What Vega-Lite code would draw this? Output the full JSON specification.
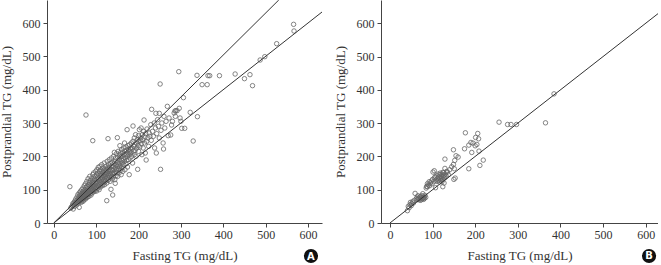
{
  "$schema": "https://vega.github.io/schema/vega-lite/v6.json",
  "padding": {"left": 0, "top": 0, "right": 0, "bottom": 0},
  "background": "white",
  "spacing": 12,
  "config": {
    "view": {"stroke": null},
    "axis": {
      "grid": false,
      "domainColor": "#444",
      "tickColor": "#444",
      "tickSize": 4,
      "labelFont": "Liberation Serif",
      "labelFontSize": 12,
      "labelColor": "#333",
      "titleFont": "Liberation Serif",
      "titleFontSize": 13,
      "titleFontWeight": "normal",
      "titleColor": "#333"
    },
    "axisX": {"labelPadding": 2, "titlePadding": 9},
    "axisY": {"labelPadding": 3, "titlePadding": 9}
  },
  "datasets": {
    "a": [
      {"x":38,"y":109},{"x":40,"y":45},{"x":42,"y":48},{"x":44,"y":52},{"x":45,"y":58},{"x":46,"y":42},{"x":47,"y":55},{"x":48,"y":62},{"x":49,"y":50},{"x":50,"y":66},
      {"x":51,"y":58},{"x":52,"y":72},{"x":53,"y":61},{"x":54,"y":54},{"x":55,"y":78},{"x":55,"y":68},{"x":56,"y":63},{"x":57,"y":85},{"x":58,"y":72},{"x":58,"y":60},
      {"x":59,"y":66},{"x":60,"y":47},{"x":60,"y":90},{"x":60,"y":78},{"x":61,"y":70},{"x":62,"y":64},{"x":62,"y":83},{"x":63,"y":95},{"x":63,"y":74},{"x":64,"y":68},
      {"x":64,"y":88},{"x":65,"y":80},{"x":65,"y":62},{"x":66,"y":100},{"x":66,"y":73},{"x":67,"y":86},{"x":67,"y":69},{"x":68,"y":93},{"x":68,"y":78},{"x":69,"y":105},
      {"x":69,"y":65},{"x":70,"y":83},{"x":70,"y":74},{"x":70,"y":96},{"x":71,"y":88},{"x":71,"y":69},{"x":72,"y":112},{"x":72,"y":80},{"x":73,"y":92},{"x":73,"y":75},
      {"x":74,"y":100},{"x":74,"y":85},{"x":75,"y":72},{"x":75,"y":118},{"x":75,"y":93},{"x":76,"y":81},{"x":76,"y":107},{"x":76,"y":324},{"x":77,"y":88},{"x":77,"y":76},
      {"x":78,"y":97},{"x":78,"y":125},{"x":79,"y":84},{"x":79,"y":110},{"x":80,"y":91},{"x":80,"y":78},{"x":80,"y":102},{"x":81,"y":133},{"x":81,"y":95},{"x":82,"y":86},
      {"x":82,"y":115},{"x":83,"y":100},{"x":83,"y":80},{"x":84,"y":122},{"x":84,"y":92},{"x":85,"y":106},{"x":85,"y":140},{"x":86,"y":88},{"x":86,"y":112},{"x":87,"y":98},
      {"x":87,"y":128},{"x":88,"y":84},{"x":88,"y":117},{"x":89,"y":104},{"x":89,"y":95},{"x":90,"y":135},{"x":90,"y":110},{"x":90,"y":90},{"x":91,"y":121},{"x":91,"y":100},
      {"x":92,"y":247},{"x":92,"y":145},{"x":92,"y":113},{"x":93,"y":93},{"x":93,"y":126},{"x":94,"y":105},{"x":94,"y":150},{"x":95,"y":117},{"x":95,"y":98},{"x":96,"y":131},
      {"x":96,"y":109},{"x":97,"y":140},{"x":97,"y":95},{"x":98,"y":122},{"x":98,"y":112},{"x":99,"y":155},{"x":99,"y":102},{"x":100,"y":130},{"x":100,"y":118},{"x":100,"y":107},
      {"x":101,"y":145},{"x":101,"y":96},{"x":102,"y":125},{"x":102,"y":160},{"x":103,"y":113},{"x":103,"y":137},{"x":104,"y":104},{"x":104,"y":150},{"x":105,"y":120},{"x":105,"y":167},
      {"x":106,"y":132},{"x":106,"y":110},{"x":107,"y":143},{"x":107,"y":100},{"x":108,"y":126},{"x":108,"y":155},{"x":109,"y":115},{"x":109,"y":170},{"x":110,"y":137},{"x":110,"y":122},
      {"x":110,"y":108},{"x":111,"y":148},{"x":111,"y":160},{"x":112,"y":130},{"x":112,"y":117},{"x":113,"y":142},{"x":113,"y":175},{"x":114,"y":124},{"x":114,"y":155},{"x":115,"y":112},
      {"x":115,"y":136},{"x":116,"y":150},{"x":116,"y":165},{"x":117,"y":128},{"x":117,"y":143},{"x":118,"y":120},{"x":118,"y":158},{"x":119,"y":138},{"x":119,"y":180},{"x":120,"y":147},
      {"x":120,"y":130},{"x":120,"y":115},{"x":121,"y":162},{"x":122,"y":140},{"x":122,"y":125},{"x":123,"y":153},{"x":123,"y":170},{"x":124,"y":133},{"x":124,"y":145},{"x":125,"y":67},
      {"x":125,"y":160},{"x":125,"y":120},{"x":126,"y":150},{"x":126,"y":185},{"x":127,"y":137},{"x":127,"y":165},{"x":128,"y":253},{"x":128,"y":128},{"x":128,"y":155},{"x":129,"y":175},
      {"x":129,"y":143},{"x":130,"y":132},{"x":130,"y":160},{"x":131,"y":148},{"x":131,"y":190},{"x":132,"y":138},{"x":132,"y":168},{"x":133,"y":155},{"x":133,"y":125},{"x":134,"y":178},
      {"x":134,"y":145},{"x":135,"y":101},{"x":135,"y":160},{"x":136,"y":140},{"x":136,"y":195},{"x":137,"y":170},{"x":137,"y":150},{"x":138,"y":132},{"x":138,"y":182},{"x":139,"y":84},
      {"x":139,"y":158},{"x":140,"y":148},{"x":140,"y":170},{"x":141,"y":200},{"x":141,"y":138},{"x":142,"y":162},{"x":142,"y":178},{"x":143,"y":150},{"x":143,"y":212},{"x":144,"y":130},
      {"x":144,"y":185},{"x":145,"y":119},{"x":145,"y":165},{"x":146,"y":155},{"x":146,"y":195},{"x":147,"y":142},{"x":147,"y":175},{"x":148,"y":208},{"x":148,"y":160},{"x":149,"y":150},
      {"x":150,"y":256},{"x":150,"y":182},{"x":150,"y":170},{"x":151,"y":140},{"x":151,"y":198},{"x":152,"y":162},{"x":152,"y":215},{"x":153,"y":175},{"x":154,"y":150},{"x":154,"y":190},
      {"x":155,"y":205},{"x":155,"y":168},{"x":156,"y":232},{"x":156,"y":180},{"x":157,"y":158},{"x":157,"y":197},{"x":158,"y":212},{"x":158,"y":172},{"x":159,"y":145},{"x":160,"y":188},
      {"x":160,"y":220},{"x":161,"y":165},{"x":161,"y":200},{"x":162,"y":180},{"x":163,"y":210},{"x":163,"y":155},{"x":164,"y":192},{"x":165,"y":225},{"x":165,"y":175},{"x":166,"y":205},
      {"x":167,"y":185},{"x":167,"y":240},{"x":168,"y":160},{"x":168,"y":215},{"x":169,"y":195},{"x":170,"y":178},{"x":170,"y":228},{"x":171,"y":205},{"x":172,"y":188},{"x":172,"y":218},
      {"x":173,"y":280},{"x":174,"y":200},{"x":174,"y":168},{"x":175,"y":232},{"x":175,"y":210},{"x":176,"y":190},{"x":177,"y":220},{"x":178,"y":205},{"x":178,"y":145},{"x":179,"y":235},
      {"x":180,"y":215},{"x":180,"y":195},{"x":181,"y":225},{"x":182,"y":210},{"x":183,"y":240},{"x":184,"y":200},{"x":185,"y":222},{"x":186,"y":180},{"x":187,"y":291},{"x":187,"y":245},
      {"x":188,"y":215},{"x":189,"y":230},{"x":190,"y":205},{"x":190,"y":255},{"x":191,"y":235},{"x":192,"y":218},{"x":193,"y":265},{"x":194,"y":200},{"x":195,"y":240},{"x":196,"y":225},
      {"x":197,"y":250},{"x":198,"y":161},{"x":199,"y":232},{"x":200,"y":215},{"x":200,"y":262},{"x":201,"y":245},{"x":202,"y":280},{"x":203,"y":228},{"x":204,"y":255},{"x":205,"y":247},
      {"x":206,"y":285},{"x":207,"y":238},{"x":208,"y":205},{"x":209,"y":265},{"x":210,"y":250},{"x":211,"y":225},{"x":212,"y":275},{"x":213,"y":309},{"x":214,"y":240},{"x":215,"y":258},
      {"x":216,"y":210},{"x":217,"y":268},{"x":218,"y":189},{"x":219,"y":245},{"x":220,"y":282},{"x":222,"y":255},{"x":224,"y":230},{"x":225,"y":270},{"x":227,"y":260},{"x":229,"y":295},
      {"x":230,"y":248},{"x":231,"y":341},{"x":233,"y":275},{"x":235,"y":260},{"x":237,"y":300},{"x":238,"y":225},{"x":240,"y":285},{"x":241,"y":329},{"x":242,"y":210},{"x":243,"y":268},
      {"x":245,"y":310},{"x":247,"y":290},{"x":249,"y":329},{"x":249,"y":255},{"x":251,"y":417},{"x":252,"y":161},{"x":253,"y":278},{"x":255,"y":300},{"x":258,"y":240},{"x":259,"y":222},
      {"x":260,"y":320},{"x":262,"y":285},{"x":265,"y":305},{"x":268,"y":350},{"x":270,"y":262},{"x":272,"y":315},{"x":276,"y":264},{"x":278,"y":294},{"x":280,"y":305},{"x":284,"y":330},
      {"x":286,"y":336},{"x":287,"y":320},{"x":288,"y":337},{"x":291,"y":337},{"x":295,"y":454},{"x":296,"y":344},{"x":298,"y":315},{"x":300,"y":305},{"x":302,"y":284},{"x":306,"y":376},
      {"x":309,"y":284},{"x":322,"y":332},{"x":329,"y":246},{"x":338,"y":443},{"x":339,"y":319},{"x":350,"y":415},{"x":362,"y":415},{"x":364,"y":442},{"x":368,"y":442},{"x":391,"y":442},
      {"x":428,"y":447},{"x":450,"y":433},{"x":463,"y":445},{"x":469,"y":412},{"x":487,"y":489},{"x":498,"y":499},{"x":526,"y":538},{"x":566,"y":596},{"x":567,"y":576}
    ],
    "b": [
      {"x":41,"y":37},{"x":43,"y":50},{"x":45,"y":46},{"x":47,"y":55},{"x":48,"y":62},{"x":50,"y":52},{"x":51,"y":58},{"x":53,"y":64},{"x":55,"y":60},{"x":57,"y":68},
      {"x":59,"y":89},{"x":62,"y":73},{"x":64,"y":78},{"x":65,"y":70},{"x":66,"y":82},{"x":67,"y":74},{"x":69,"y":72},{"x":70,"y":78},{"x":71,"y":68},{"x":72,"y":80},
      {"x":73,"y":75},{"x":74,"y":70},{"x":75,"y":82},{"x":76,"y":73},{"x":77,"y":88},{"x":78,"y":76},{"x":79,"y":71},{"x":80,"y":78},{"x":81,"y":74},{"x":82,"y":83},
      {"x":84,"y":77},{"x":85,"y":105},{"x":86,"y":110},{"x":88,"y":109},{"x":88,"y":118},{"x":90,"y":114},{"x":92,"y":124},{"x":93,"y":112},{"x":95,"y":120},{"x":97,"y":126},
      {"x":99,"y":118},{"x":100,"y":131},{"x":101,"y":153},{"x":103,"y":124},{"x":104,"y":157},{"x":105,"y":136},{"x":106,"y":139},{"x":107,"y":106},{"x":108,"y":129},{"x":110,"y":142},
      {"x":111,"y":125},{"x":112,"y":134},{"x":113,"y":147},{"x":114,"y":128},{"x":115,"y":138},{"x":116,"y":123},{"x":117,"y":145},{"x":118,"y":132},{"x":118,"y":150},{"x":119,"y":127},
      {"x":120,"y":140},{"x":121,"y":135},{"x":122,"y":146},{"x":122,"y":124},{"x":123,"y":130},{"x":124,"y":109},{"x":124,"y":152},{"x":125,"y":138},{"x":126,"y":143},{"x":126,"y":151},
      {"x":127,"y":120},{"x":128,"y":135},{"x":129,"y":164},{"x":129,"y":192},{"x":130,"y":147},{"x":132,"y":140},{"x":133,"y":155},{"x":135,"y":153},{"x":137,"y":145},{"x":140,"y":160},
      {"x":145,"y":169},{"x":149,"y":176},{"x":149,"y":220},{"x":150,"y":131},{"x":151,"y":163},{"x":152,"y":188},{"x":153,"y":135},{"x":155,"y":202},{"x":160,"y":198},{"x":175,"y":223},
      {"x":177,"y":271},{"x":185,"y":163},{"x":185,"y":234},{"x":190,"y":242},{"x":192,"y":212},{"x":195,"y":240},{"x":200,"y":232},{"x":201,"y":257},{"x":204,"y":236},{"x":206,"y":269},
      {"x":208,"y":253},{"x":209,"y":216},{"x":211,"y":173},{"x":219,"y":189},{"x":256,"y":303},{"x":276,"y":296},{"x":284,"y":296},{"x":297,"y":296},{"x":365,"y":301},{"x":385,"y":388}
    ],
    "la": [
      {"g":"steep","x":0,"y":0},{"g":"steep","x":531,"y":669},
      {"g":"identity","x":0,"y":0},{"g":"identity","x":633,"y":633}
    ],
    "lb": [
      {"g":"identity","x":0,"y":0},{"g":"identity","x":629,"y":629}
    ],
    "badgeA": [{"x":607,"y":-99,"label":"A"}],
    "badgeB": [{"x":608,"y":-99,"label":"B"}]
  },
  "hconcat": [
    {
      "width": 275,
      "height": 223,
      "encoding": {
        "x": {"field": "x", "type": "quantitative",
              "scale": {"domain": [-16, 633], "nice": false, "zero": false},
              "axis": {"values": [0,100,200,300,400,500,600], "title": "Fasting TG (mg/dL)"}},
        "y": {"field": "y", "type": "quantitative",
              "scale": {"domain": [0, 669], "nice": false, "zero": false},
              "axis": {"values": [0,100,200,300,400,500,600], "title": "Postprandial TG (mg/dL)"}}
      },
      "layer": [
        {"data": {"name": "a"}, "mark": {"type": "point", "shape": "circle", "filled": false, "size": 20, "stroke": "#666", "strokeWidth": 0.8, "opacity": 1}},
        {"data": {"name": "la"}, "mark": {"type": "line", "color": "#333", "strokeWidth": 1, "clip": true}, "encoding": {"detail": {"field": "g"}}},
        {"data": {"name": "badgeA"}, "mark": {"type": "point", "shape": "circle", "filled": true, "size": 200, "color": "#111", "opacity": 1}},
        {"data": {"name": "badgeA"}, "mark": {"type": "text", "color": "white", "font": "DejaVu Sans", "fontWeight": "bold", "fontSize": 10, "baseline": "middle", "align": "center", "dy": 0.5}, "encoding": {"text": {"field": "label"}}}
      ]
    },
    {
      "width": 277,
      "height": 223,
      "encoding": {
        "x": {"field": "x", "type": "quantitative",
              "scale": {"domain": [-21, 629], "nice": false, "zero": false},
              "axis": {"values": [0,100,200,300,400,500,600], "title": "Fasting TG (mg/dL)"}},
        "y": {"field": "y", "type": "quantitative",
              "scale": {"domain": [0, 670], "nice": false, "zero": false},
              "axis": {"values": [0,100,200,300,400,500,600], "title": "Postprandial TG (mg/dL)"}}
      },
      "layer": [
        {"data": {"name": "b"}, "mark": {"type": "point", "shape": "circle", "filled": false, "size": 20, "stroke": "#666", "strokeWidth": 0.8, "opacity": 1}},
        {"data": {"name": "lb"}, "mark": {"type": "line", "color": "#333", "strokeWidth": 1, "clip": true}, "encoding": {"detail": {"field": "g"}}},
        {"data": {"name": "badgeB"}, "mark": {"type": "point", "shape": "circle", "filled": true, "size": 200, "color": "#111", "opacity": 1}},
        {"data": {"name": "badgeB"}, "mark": {"type": "text", "color": "white", "font": "DejaVu Sans", "fontWeight": "bold", "fontSize": 10, "baseline": "middle", "align": "center", "dy": 0.5}, "encoding": {"text": {"field": "label"}}}
      ]
    }
  ]
}
